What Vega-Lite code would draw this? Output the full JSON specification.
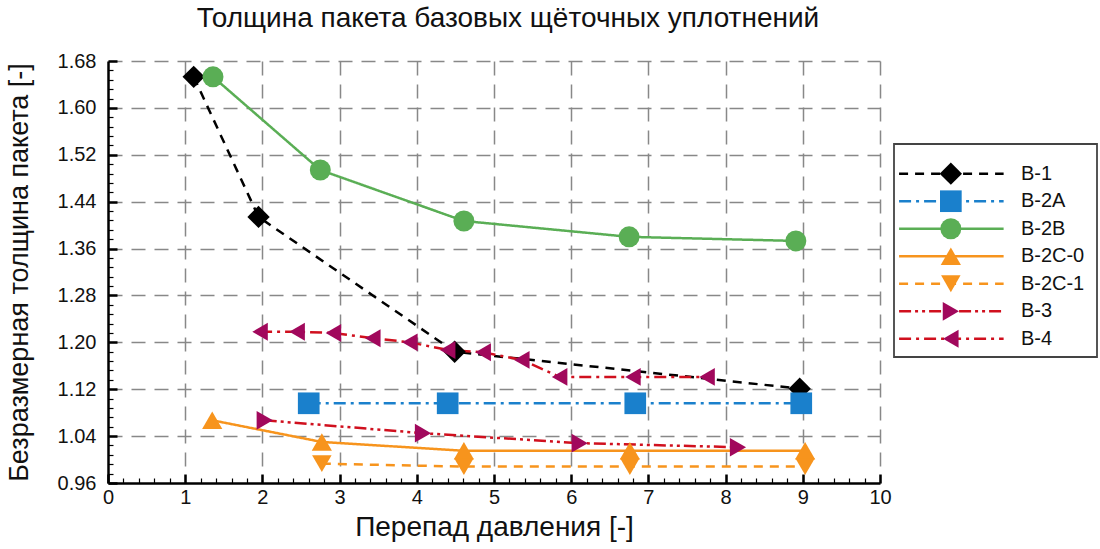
{
  "$schema": "https://vega.github.io/schema/vega-lite/v6.json",
  "background": "white",
  "padding": {"left": 5, "top": 5, "right": 2, "bottom": 5},
  "config": {
    "font": "Liberation Sans",
    "view": {"stroke": null},
    "text": {"font": "Liberation Sans"}
  },
  "datasets": {
    "pts": [
      {"series": "B-1", "p": 1.11, "t": 1.653},
      {"series": "B-1", "p": 1.95, "t": 1.414},
      {"series": "B-1", "p": 4.49, "t": 1.184},
      {"series": "B-1", "p": 8.96, "t": 1.121},
      {"series": "B-2A", "p": 2.60, "t": 1.096},
      {"series": "B-2A", "p": 4.40, "t": 1.096},
      {"series": "B-2A", "p": 6.83, "t": 1.096},
      {"series": "B-2A", "p": 8.98, "t": 1.096},
      {"series": "B-2B", "p": 1.36, "t": 1.653},
      {"series": "B-2B", "p": 2.75, "t": 1.494},
      {"series": "B-2B", "p": 4.61, "t": 1.407},
      {"series": "B-2B", "p": 6.75, "t": 1.380},
      {"series": "B-2B", "p": 8.91, "t": 1.373},
      {"series": "B-2C-0", "p": 1.35, "t": 1.067},
      {"series": "B-2C-0", "p": 2.77, "t": 1.030},
      {"series": "B-2C-0", "p": 4.61, "t": 1.015},
      {"series": "B-2C-0", "p": 6.76, "t": 1.015},
      {"series": "B-2C-0", "p": 9.03, "t": 1.015},
      {"series": "B-2C-1", "p": 2.77, "t": 0.993},
      {"series": "B-2C-1", "p": 4.61, "t": 0.988},
      {"series": "B-2C-1", "p": 6.76, "t": 0.988},
      {"series": "B-2C-1", "p": 9.03, "t": 0.988},
      {"series": "B-3", "p": 2.03, "t": 1.067},
      {"series": "B-3", "p": 4.08, "t": 1.045},
      {"series": "B-3", "p": 6.11, "t": 1.028},
      {"series": "B-3", "p": 8.16, "t": 1.021},
      {"series": "B-4", "p": 1.97, "t": 1.218},
      {"series": "B-4", "p": 2.45, "t": 1.218},
      {"series": "B-4", "p": 2.92, "t": 1.216},
      {"series": "B-4", "p": 3.43, "t": 1.207},
      {"series": "B-4", "p": 3.91, "t": 1.200},
      {"series": "B-4", "p": 4.40, "t": 1.187},
      {"series": "B-4", "p": 4.86, "t": 1.183},
      {"series": "B-4", "p": 5.36, "t": 1.170},
      {"series": "B-4", "p": 5.85, "t": 1.141},
      {"series": "B-4", "p": 6.80, "t": 1.141},
      {"series": "B-4", "p": 7.76, "t": 1.141}
    ],
    "leg": [
      {"series": "B-1"},
      {"series": "B-2A"},
      {"series": "B-2B"},
      {"series": "B-2C-0"},
      {"series": "B-2C-1"},
      {"series": "B-3"},
      {"series": "B-4"}
    ]
  },
  "hconcat": [
    {
      "width": 772,
      "height": 422,
      "title": {"text": "Толщина пакета базовых щёточных уплотнений", "fontSize": 28, "fontWeight": "normal", "color": "#111", "anchor": "middle", "offset": 18, "dx": 14},
      "data": {"name": "pts"},
      "encoding": {
        "x": {
          "field": "p", "type": "quantitative",
          "scale": {"domain": [0, 10], "nice": false, "zero": false},
          "axis": {
            "title": "Перепад давления [-]",
            "titleFontSize": 28, "titleFontWeight": "normal", "titleColor": "#111", "titlePadding": 2,
            "values": [0,0.2,0.4,0.6,0.8,1,1.2,1.4,1.6,1.8,2,2.2,2.4,2.6,2.8,3,3.2,3.4,3.6,3.8,4,4.2,4.4,4.6,4.8,5,5.2,5.4,5.6,5.8,6,6.2,6.4,6.6,6.8,7,7.2,7.4,7.6,7.8,8,8.2,8.4,8.6,8.8,9,9.2,9.4,9.6,9.8,10],
            "labelExpr": "datum.value % 1 === 0 ? format(datum.value, 'd') : ''",
            "labelFontSize": 20, "labelColor": "#111", "labelPadding": 13, "labelFlush": false, "labelOverlap": false,
            "tickSize": {"expr": "datum.value % 1 === 0 ? -9 : -5"},
            "tickWidth": {"condition": {"test": "datum.value % 1 === 0", "value": 2.5}, "value": 1.2},
            "tickColor": "#000",
            "domainColor": "#000", "domainWidth": 2.5,
            "grid": true,
            "gridOpacity": {"condition": {"test": "datum.value % 1 === 0 && datum.value > 0", "value": 1}, "value": 0},
            "gridColor": "#888888", "gridDash": [14, 9], "gridWidth": 1.5
          }
        },
        "y": {
          "field": "t", "type": "quantitative",
          "scale": {"domain": [0.96, 1.68], "nice": false, "zero": false},
          "axis": {
            "title": "Безразмерная толщина пакета [-]",
            "titleFontSize": 27, "titleFontWeight": "normal", "titleColor": "#111", "titlePadding": 24,
            "values": [0.96,0.976,0.992,1.008,1.024,1.04,1.056,1.072,1.088,1.104,1.12,1.136,1.152,1.168,1.184,1.2,1.216,1.232,1.248,1.264,1.28,1.296,1.312,1.328,1.344,1.36,1.376,1.392,1.408,1.424,1.44,1.456,1.472,1.488,1.504,1.52,1.536,1.552,1.568,1.584,1.6,1.616,1.632,1.648,1.664,1.68],
            "labelExpr": "round(datum.value * 1000) % 80 === 0 ? format(datum.value, '.2f') : ''",
            "labelFontSize": 20, "labelColor": "#111", "labelPadding": 21, "labelOverlap": false, "labelFlush": false,
            "tickSize": {"expr": "round(datum.value * 1000) % 80 === 0 ? -9 : -5"},
            "tickWidth": {"condition": {"test": "round(datum.value * 1000) % 80 === 0", "value": 2.5}, "value": 1.2},
            "tickColor": "#000",
            "domainColor": "#000", "domainWidth": 2.5,
            "grid": true,
            "gridOpacity": {"condition": {"test": "round(datum.value * 1000) % 80 === 0 && datum.value > 0.97", "value": 1}, "value": 0},
            "gridColor": "#888888", "gridDash": [14, 9], "gridWidth": 1.5
          }
        }
      },
      "layer": [
        {
          "mark": {"type": "line", "strokeWidth": 2.5},
          "encoding": {
            "detail": {"field": "series", "type": "nominal"},
            "stroke": {"field": "series", "type": "nominal", "legend": null,
              "scale": {"domain": ["B-1","B-2A","B-2B","B-2C-0","B-2C-1","B-3","B-4"], "range": ["#000000","#1a80cc","#5aae55","#f7941d","#f7941d","#d0101e","#d0101e"]}},
            "strokeDash": {"field": "series", "type": "nominal", "legend": null,
              "scale": {"domain": ["B-1","B-2A","B-2B","B-2C-0","B-2C-1","B-3","B-4"], "range": [[9,7],[12,5,3,5],[1,0],[1,0],[9,7],[12,4,3,4,3,4],[12,5,3,5]]}}
          }
        },
        {
          "mark": {"type": "point", "filled": true, "opacity": 1, "strokeWidth": 0},
          "encoding": {
            "shape": {"field": "series", "type": "nominal", "legend": null,
              "scale": {"domain": ["B-1","B-2A","B-2B","B-2C-0","B-2C-1","B-3","B-4"], "range": ["diamond","square","circle","triangle-up","triangle-down","triangle-right","triangle-left"]}},
            "fill": {"field": "series", "type": "nominal", "legend": null,
              "scale": {"domain": ["B-1","B-2A","B-2B","B-2C-0","B-2C-1","B-3","B-4"], "range": ["#000000","#1a80cc","#5aae55","#f7941d","#f7941d","#a1085c","#a1085c"]}},
            "size": {"field": "series", "type": "nominal", "legend": null,
              "scale": {"domain": ["B-1","B-2A","B-2B","B-2C-0","B-2C-1","B-3","B-4"], "range": [500,320,360,420,420,420,420]}}
          }
        }
      ]
    },
    {
      "spacing": 0,
      "vconcat": [
        {
          "width": 203,
          "height": 82,
          "data": {"values": [{}]},
          "mark": {"type": "point", "opacity": 0},
          "view": {"stroke": null}
        },
        {
          "width": 203,
          "height": 213,
          "data": {"name": "leg"},
          "view": {"stroke": "#444444", "strokeWidth": 1.8},
          "encoding": {
            "y": {"field": "series", "type": "nominal", "axis": null,
              "scale": {"type": "point", "domain": ["B-1","B-2A","B-2B","B-2C-0","B-2C-1","B-3","B-4"], "padding": 0.87, "align": 0.62}}
          },
          "layer": [
            {
              "mark": {"type": "rule", "strokeWidth": 2.5},
              "encoding": {
                "x": {"datum": 0.025, "type": "quantitative", "axis": null, "scale": {"domain": [0, 1], "nice": false, "zero": false}},
                "x2": {"datum": 0.54},
                "stroke": {"field": "series", "type": "nominal", "legend": null},
                "strokeDash": {"field": "series", "type": "nominal", "legend": null}
              }
            },
            {
              "mark": {"type": "point", "filled": true, "opacity": 1, "strokeWidth": 0},
              "encoding": {
                "x": {"datum": 0.28, "type": "quantitative"},
                "shape": {"field": "series", "type": "nominal", "legend": null},
                "fill": {"field": "series", "type": "nominal", "legend": null},
                "size": {"field": "series", "type": "nominal", "legend": null}
              }
            },
            {
              "mark": {"type": "text", "align": "left", "baseline": "middle", "fontSize": 20, "color": "#111"},
              "encoding": {
                "x": {"datum": 0.625, "type": "quantitative"},
                "text": {"field": "series", "type": "nominal"}
              }
            }
          ]
        }
      ]
    }
  ],
  "spacing": 1
}
